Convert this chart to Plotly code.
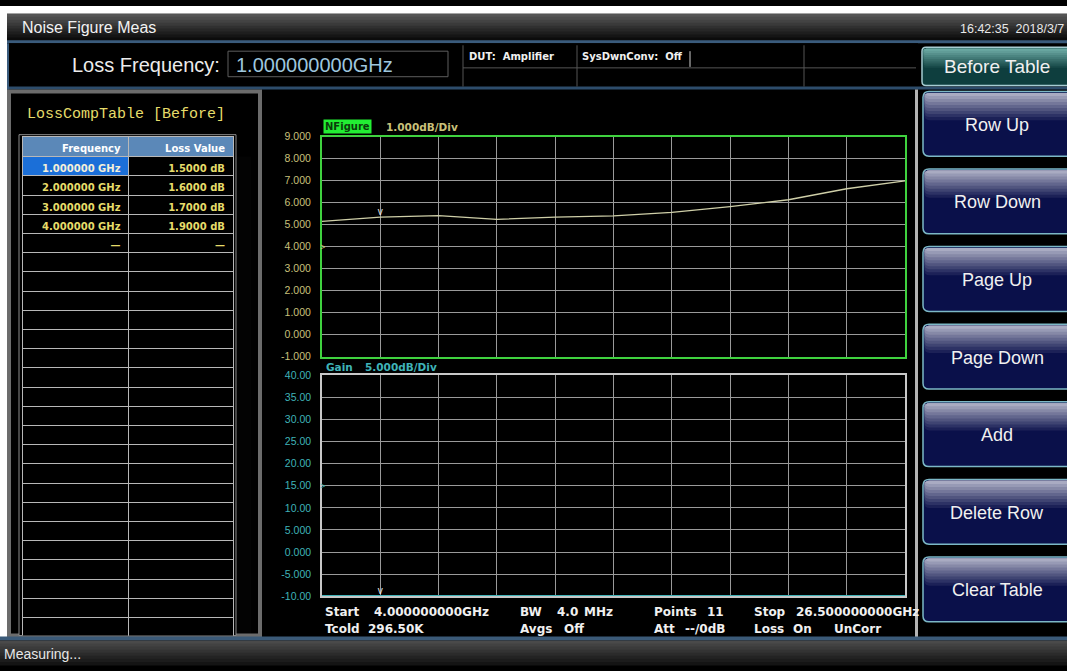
import plotly.graph_objects as go

W, H = 1067, 671

# ── Data ──────────────────────────────────────────────────────────────────────
freq_ghz = [4.0, 6.25, 8.5, 10.75, 13.0, 15.25, 17.5, 19.75, 22.0, 24.25, 26.5]
nf_db = [5.15, 5.34, 5.41, 5.24, 5.34, 5.40, 5.56, 5.82, 6.13, 6.63, 6.99]
gain_db = [-10.0, -10.0, -10.0, -10.0, -10.0, -10.0, -10.0, -10.0, -10.0, -10.0, -10.0]
marker_idx = 1

nf_tickvals = [9, 8, 7, 6, 5, 4, 3, 2, 1, 0, -1]
nf_ticktext = ["9.000", "8.000", "7.000", "6.000", "5.000", "4.000", "3.000",
               "2.000", "1.000", "0.000", "-1.000"]
gain_tickvals = [40, 35, 30, 25, 20, 15, 10, 5, 0, -5, -10]
gain_ticktext = ["40.00", "35.00", "30.00", "25.00", "20.00", "15.00", "10.00",
                 "5.000", "0.000", "-5.000", "-10.00"]

table_header = ["Frequency", "Loss Value"]
loss_freq = ["1.000000 GHz", "2.000000 GHz", "3.000000 GHz", "4.000000 GHz", "—"]
loss_value = ["1.5000 dB", "1.6000 dB", "1.7000 dB", "1.9000 dB", "—"]
TABLE_ROWS = 25

softkeys = ["Row Up", "Row Down", "Page Up", "Page Down", "Add", "Delete Row", "Clear Table"]

# ── Colours / fonts ───────────────────────────────────────────────────────────
NF_GREEN = "#3fd23f"
NF_TEXT = "#c9c17a"
GAIN_TEXT = "#3fb3b8"
GRID = "#9a9a9a"
TRACE_NF = "#cfcfa8"
TABLE_YELLOW = "#e6dc6a"
WHITE = "#f0f0f0"
FONT = "Liberation Sans"
BOLD_FONT = "DejaVu Sans"


def fx(x):
    return x / W


def fy(y):
    return 1 - y / H


def mix(c1, c2, t):
    a = [int(c1[i:i + 2], 16) for i in (1, 3, 5)]
    b = [int(c2[i:i + 2], 16) for i in (1, 3, 5)]
    return "#" + "".join(f"{round(p + (q - p) * t):02x}" for p, q in zip(a, b))


def rect(x0, y0, x1, y1, fill, line=None, lw=0, layer="below"):
    return dict(type="rect", xref="paper", yref="paper",
                x0=fx(x0), x1=fx(x1), y0=fy(y1), y1=fy(y0),
                fillcolor=fill, line=dict(color=line or fill, width=lw), layer=layer)


def vgrad(x0, y0, x1, y1, top, bottom, n=8):
    step = (y1 - y0) / n
    return [rect(x0, y0 + k * step, x1, y0 + (k + 1) * step + 0.5, mix(top, bottom, k / (n - 1)))
            for k in range(n)]


def hline(x0, x1, y, color, w=1, layer="below"):
    return dict(type="line", xref="paper", yref="paper", x0=fx(x0), x1=fx(x1),
                y0=fy(y), y1=fy(y), line=dict(color=color, width=w), layer=layer)


def vline(x, y0, y1, color, w=1, layer="below"):
    return dict(type="line", xref="paper", yref="paper", x0=fx(x), x1=fx(x),
                y0=fy(y0), y1=fy(y1), line=dict(color=color, width=w), layer=layer)


def rounded(x0, y0, x1, y1, r, fill, line=None, lw=0, layer="above"):
    c = lambda x, y: f"{fx(x):.5f},{fy(y):.5f}"
    path = (f"M {c(x0 + r, y0)} L {c(x1 - r, y0)} Q {c(x1, y0)} {c(x1, y0 + r)} "
            f"L {c(x1, y1 - r)} Q {c(x1, y1)} {c(x1 - r, y1)} L {c(x0 + r, y1)} "
            f"Q {c(x0, y1)} {c(x0, y1 - r)} L {c(x0, y0 + r)} Q {c(x0, y0)} {c(x0 + r, y0)} Z")
    return dict(type="path", xref="paper", yref="paper", path=path, fillcolor=fill,
                line=dict(color=line or fill, width=lw), layer=layer)


def key(x0, y0, x1, y1, body, shine, border, glow=0.45, r=6):
    """Glossy soft key: rounded body plus a top highlight that fades into the body."""
    out = [rounded(x0, y0, x1, y1, r, body, border, 1.5)]
    hmax = (y1 - y0) * glow
    n = 9
    for k in range(n):
        h = hmax * (1 - k / n)
        out.append(rounded(x0 + 1.5, y0 + 1.5, x1, y0 + 1.5 + h, r - 1,
                           mix(body, shine, (k + 1) / n)))
    return out


def label(x, y, text, size=13, color=WHITE, bold=False, family=None, anchor="left", bg=None):
    return dict(xref="paper", yref="paper", x=fx(x), y=fy(y), text=text, showarrow=False,
                xanchor=anchor, yanchor="middle", bgcolor=bg, borderpad=1,
                font=dict(size=size, color=color,
                          family=family or (BOLD_FONT if bold else FONT),
                          weight="bold" if bold else "normal"))


fig = go.Figure()

# ── Traces ────────────────────────────────────────────────────────────────────
fig.add_trace(go.Scatter(x=freq_ghz, y=nf_db, mode="lines", xaxis="x", yaxis="y",
                         line=dict(color=TRACE_NF, width=1.3), hoverinfo="skip"))
fig.add_trace(go.Scatter(x=freq_ghz, y=gain_db, mode="lines", xaxis="x2", yaxis="y2",
                         line=dict(color=GAIN_TEXT, width=2.5), hoverinfo="skip"))
fig.add_trace(go.Scatter(x=[freq_ghz[marker_idx]], y=[nf_db[marker_idx]], mode="text",
                         text=["v"], textposition="top center", xaxis="x", yaxis="y",
                         textfont=dict(color="#e8e8e8", size=10, family=FONT),
                         cliponaxis=False, hoverinfo="skip"))
fig.add_trace(go.Scatter(x=[freq_ghz[marker_idx]], y=[gain_db[marker_idx]], mode="text",
                         text=["v"], textposition="top center", xaxis="x2", yaxis="y2",
                         textfont=dict(color="#e8e8e8", size=10, family=FONT),
                         cliponaxis=False, hoverinfo="skip"))

# Loss compensation table
n_pad = TABLE_ROWS - len(loss_freq)
col_freq = loss_freq + [""] * n_pad
col_loss = loss_value + [""] * n_pad
fill_freq = ["#1b6fd8"] + ["black"] * (TABLE_ROWS - 1)
font_freq = ["#f4f0d8"] + [TABLE_YELLOW] * (TABLE_ROWS - 1)
fig.add_trace(go.Table(
    domain=dict(x=[fx(22), fx(233)], y=[fy(642), fy(133)]),
    columnwidth=[106, 104],
    header=dict(values=table_header, fill_color="#5b88b8", align="right", height=20,
                line=dict(color="#b8b8b8", width=1),
                font=dict(color="white", size=10, family=BOLD_FONT, weight="bold")),
    cells=dict(values=[col_freq, col_loss], fill_color=[fill_freq, ["black"] * TABLE_ROWS],
               align="right", height=19.2, line=dict(color="#b8b8b8", width=1),
               font=dict(color=[font_freq, [TABLE_YELLOW] * TABLE_ROWS], size=10,
                         family=BOLD_FONT, weight="bold")),
))

# ── Frame / panels ────────────────────────────────────────────────────────────
shapes = [
    rect(0, 0, W, H, "black"),
    rect(0, 0, W, 8, "white"),
    rect(0, 0, 7, 645, "white"),
]
# title bar
shapes += vgrad(7, 8, W, 35, "#555555", "#0c0c0c", n=9)
shapes += [
    rect(7, 35, W, 38, "#3a5b7c"),
    # header bar
    rect(7, 38, 918, 82, "black"),
    rect(7, 82, W, 85, "#2d4c6b"),
    rect(7, 38, 9, 85, "#3a5b7c"),
    rect(228, 46, 448, 72, "black", "#5e5e5e", 1),
    vline(463, 40, 82, "#555555"),
    vline(577, 40, 82, "#555555"),
    vline(804, 40, 82, "#555555"),
    vline(690, 46, 62, "#d0d0d0"),
    hline(463, 916, 63, "#555555"),
    # left panel
    rect(7, 85, 262, 643, "#6c6c6c"),
    rect(11, 89, 258, 639, "black"),
    rect(19, 131, 236, 641, "black", "#8a8a8a", 1),
    # graph panel right edge
    rect(915, 85, 918, 643, "#b4b4b4"),
]
# status bar
shapes.append(rect(0, 642, W, 646, "#3b5a78"))
shapes += vgrad(0, 646, W, H, "#4a4a4a", "#141414", n=8)

# before-table key
shapes += key(922, 42, 1080, 81, "#0e3e3e", "#6aa8a2", "#a6ccd2", glow=0.5, r=4)

# softkeys
KEY_TOP, KEY_H, KEY_STEP = 87, 66, 79
annotations = []
for i, name in enumerate(softkeys):
    y0 = KEY_TOP + i * KEY_STEP
    y1 = y0 + KEY_H
    shapes += key(923, y0, 1080, y1, "#0a104a", "#a9abc2", "#7cb8c6", glow=0.42)
    annotations.append(label(997, (y0 + y1) / 2 + 1, name, size=18, color=WHITE,
                             anchor="center"))

# ── Text ──────────────────────────────────────────────────────────────────────
annotations += [
    label(20, 22, "Noise Figure Meas", size=16, color="#f2f2f2"),
    label(1066, 23, "16:42:35\u00a0\u00a02018/3/7", size=12.5, color="#e8e8e8",
          anchor="right"),
    label(222, 60, "Loss Frequency:", size=20, color="#ececec", anchor="right"),
    label(234, 60, "1.000000000GHz", size=20, color="#9ec6de"),
    label(467, 51, "DUT:\u00a0\u00a0Amplifier", size=10, bold=True),
    label(580, 51, "SysDwnConv:\u00a0\u00a0Off", size=10, bold=True),
    label(997, 62, "Before Table", size=19, color=WHITE, anchor="center"),
    label(25, 110, "LossCompTable [Before]", size=15, color=TABLE_YELLOW,
          family="Liberation Mono"),
    label(323, 123, "NFigure", size=10, color="#0b3d0b", bold=True, bg="#22ee33"),
    label(384, 123, "1.000dB/Div", size=10.5, color=NF_TEXT, bold=True),
    label(324, 368, "Gain", size=10.5, color=GAIN_TEXT, bold=True),
    label(363, 368, "5.000dB/Div", size=10.5, color=GAIN_TEXT, bold=True),
    label(2, 660, "Measuring...", size=14, color="#e6e6e6"),
]

info = [
    (323, 617, "Start"), (372, 617, "4.000000000GHz"),
    (518, 617, "BW"), (555, 617, "4.0"), (582, 617, "MHz"),
    (652, 617, "Points"), (705, 617, "11"),
    (752, 617, "Stop"), (794, 617, "26.500000000GHz"),
    (323, 634, "Tcold"), (366, 634, "296.50K"),
    (518, 634, "Avgs"), (562, 634, "Off"),
    (652, 634, "Att"), (683, 634, "--/0dB"),
    (752, 634, "Loss"), (791, 634, "On"), (832, 634, "UnCorr"),
]
for x, y, t in info:
    annotations.append(label(x, y, t, size=12, bold=True))

# reference-level markers next to the y axes
annotations.append(dict(x=fx(318), y=4, xref="paper", yref="y", text=">", showarrow=False,
                        font=dict(size=9, color=NF_TEXT, family=FONT)))
annotations.append(dict(x=fx(318), y=15, xref="paper", yref="y2", text=">", showarrow=False,
                        font=dict(size=9, color=GAIN_TEXT, family=FONT)))

# ── Axes ──────────────────────────────────────────────────────────────────────
x_common = dict(range=[freq_ghz[0], freq_ghz[-1]], dtick=2.25, tick0=freq_ghz[0],
                showgrid=True, gridcolor=GRID, gridwidth=1, showticklabels=False,
                zeroline=False, showline=True, mirror=True, fixedrange=True)
fig.update_layout(
    width=W, height=H,
    margin=dict(l=0, r=0, t=0, b=0),
    paper_bgcolor="black",
    plot_bgcolor="rgba(0,0,0,0)",
    showlegend=False,
    font=dict(family=FONT),
    xaxis=dict(domain=[fx(322), fx(905)], anchor="y", linecolor=NF_GREEN, linewidth=2,
               **x_common),
    yaxis=dict(domain=[fy(357), fy(133)], anchor="x", range=[-1, 9],
               tickvals=nf_tickvals, ticktext=nf_ticktext, showgrid=True, gridcolor=GRID,
               zeroline=False, showline=True, mirror=True, linecolor=NF_GREEN, linewidth=2,
               tickfont=dict(size=10.5, color=NF_TEXT, family=FONT), ticklabelstandoff=7,
               fixedrange=True),
    xaxis2=dict(domain=[fx(322), fx(905)], anchor="y2", linecolor="#c8c8c8", linewidth=1.5,
                **x_common),
    yaxis2=dict(domain=[fy(601), fy(376)], anchor="x2", range=[-10, 40],
                tickvals=gain_tickvals, ticktext=gain_ticktext, showgrid=True, gridcolor=GRID,
                zeroline=False, showline=True, mirror=True, linecolor="#c8c8c8", linewidth=1.5,
                tickfont=dict(size=10.5, color=GAIN_TEXT, family=FONT), ticklabelstandoff=7,
                fixedrange=True),
    shapes=shapes,
    annotations=annotations,
)

# page body has an 8px default margin; drop it so the figure fills the window
fig.write_html("out.html", config={"displayModeBar": False},
               post_script="document.body.style.margin='0';document.body.style.overflow='hidden';")
